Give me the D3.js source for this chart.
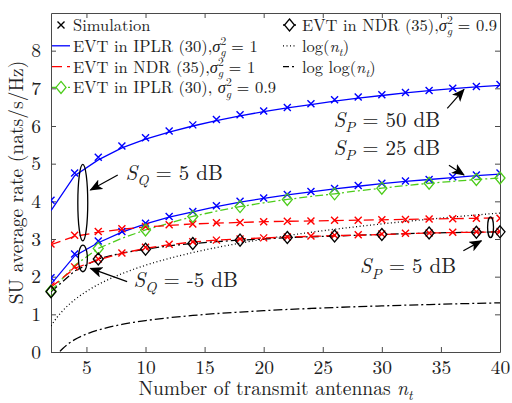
<!DOCTYPE html>
<html>
<head>
<meta charset="utf-8">
<title>SU average rate</title>
<script src="https://d3js.org/d3.v7.min.js"></script>
</head>
<body style="margin:0; background:#fff">
<script>
// number of transmit antennas (even values)
var nt = [2, 4, 6, 8, 10, 12, 14, 16, 18, 20, 22, 24, 26, 28, 30, 32, 34, 36, 38, 40];

// EVT in IPLR (30), sigma_g^2 = 1
var iplrHigh    = [3.75, 4.68, 5.10, 5.42, 5.65, 5.84, 6.00, 6.14, 6.27, 6.38, 6.48, 6.57, 6.66, 6.74, 6.81, 6.88, 6.94, 6.99, 7.04, 7.08];
var iplrHighSim = [4.03, 4.75, 5.17, 5.47, 5.69, 5.87, 6.03, 6.17, 6.30, 6.40, 6.49, 6.59, 6.70, 6.77, 6.83, 6.89, 6.94, 7.00, 7.05, 7.10];
var iplrLow     = [1.80, 2.55, 2.90, 3.18, 3.40, 3.58, 3.72, 3.86, 3.98, 4.08, 4.17, 4.25, 4.33, 4.40, 4.47, 4.53, 4.58, 4.63, 4.68, 4.72];
var iplrLowSim  = [1.97, 2.60, 2.95, 3.20, 3.42, 3.60, 3.73, 3.88, 4.00, 4.09, 4.18, 4.26, 4.34, 4.42, 4.48, 4.54, 4.58, 4.65, 4.70, 4.75];
// EVT in NDR (35), sigma_g^2 = 1
var ndrHigh     = [2.85, 3.07, 3.18, 3.26, 3.32, 3.36, 3.40, 3.42, 3.44, 3.46, 3.47, 3.48, 3.49, 3.50, 3.51, 3.52, 3.53, 3.54, 3.55, 3.56];
var ndrHighSim  = [2.87, 3.10, 3.20, 3.27, 3.33, 3.38, 3.40, 3.43, 3.44, 3.46, 3.47, 3.48, 3.50, 3.50, 3.51, 3.52, 3.53, 3.54, 3.55, 3.55];
var ndrLow      = [1.72, 2.22, 2.45, 2.62, 2.75, 2.85, 2.92, 2.97, 3.00, 3.03, 3.05, 3.07, 3.09, 3.10, 3.12, 3.14, 3.16, 3.17, 3.18, 3.19];
var ndrLowSim   = [1.75, 2.26, 2.47, 2.63, 2.78, 2.86, 2.93, 2.97, 3.00, 3.03, 3.05, 3.08, 3.10, 3.11, 3.13, 3.15, 3.16, 3.18, 3.19, 3.20];
// sigma_g^2 = 0.9
var iplr09      = [1.62, 2.30, 2.75, 3.02, 3.24, 3.42, 3.60, 3.74, 3.86, 3.96, 4.05, 4.13, 4.20, 4.28, 4.35, 4.42, 4.48, 4.53, 4.58, 4.62];
var ndr09       = [1.60, 2.15, 2.47, 2.63, 2.73, 2.82, 2.88, 2.93, 2.97, 3.00, 3.04, 3.06, 3.08, 3.10, 3.12, 3.14, 3.16, 3.17, 3.18, 3.19];
var diamondAt   = [2, 6, 10, 14, 18, 22, 26, 30, 34, 38, 40];

// reference curves
var ntFine  = [2, 2.5, 2.72, 3, 3.5, 4, 5, 6, 7, 8, 9, 10, 12, 14, 16, 18, 20, 22, 24, 26, 28, 30, 32, 34, 36, 38, 40];
var logN    = [0.693, 0.916, 1.001, 1.099, 1.253, 1.386, 1.609, 1.792, 1.946, 2.079, 2.197, 2.303, 2.485, 2.639, 2.773, 2.890, 2.996, 3.091, 3.178, 3.258, 3.332, 3.401, 3.466, 3.526, 3.584, 3.638, 3.689];
var logLogN = [-0.367, -0.087, 0.001, 0.094, 0.226, 0.327, 0.476, 0.583, 0.666, 0.732, 0.787, 0.834, 0.910, 0.970, 1.020, 1.061, 1.097, 1.129, 1.156, 1.181, 1.204, 1.224, 1.243, 1.260, 1.277, 1.291, 1.305];

var xTicks = [5, 10, 15, 20, 25, 30, 35, 40];
var yTicks = [0, 1, 2, 3, 4, 5, 6, 7, 8];

var FONT = "'Latin Modern Roman', 'Liberation Serif', 'DejaVu Serif'";
var INK = "#222";

var margin = {top: 13, right: 12, bottom: 51, left: 51};
var width = 512 - margin.left - margin.right,
    height = 403 - margin.top - margin.bottom;

var svg = d3.select("body").append("svg")
    .attr("width", 512).attr("height", 403);
var g = svg.append("g")
    .attr("transform", "translate(" + margin.left + "," + margin.top + ")");

var x = d3.scaleLinear().domain([2, 40]).range([0, width]);
var y = d3.scaleLinear().domain([0, 9]).range([height, 0]);

var blue = "#0000ff", red = "#ff0000", green = "#4ccc1a";

// rich text helper: parts with italic / sub / sup
function rich(sel, px, py, parts, size) {
    var t = sel.append("text").attr("x", px).attr("y", py)
        .style("font-family", FONT).style("font-size", size + "px").style("fill", INK);
    var shift = 0;
    parts.forEach(function(p) {
        var s = t.append("tspan").text(p.t);
        var target = p.sub ? 0.25 * size : (p.sup ? -0.42 * size : 0);
        s.attr("dy", target - shift);
        shift = target;
        if (p.it) s.style("font-style", "italic");
        if (p.sub || p.sup) s.style("font-size", (size * 0.7) + "px");
        if (p.dx) s.attr("dx", p.dx);
    });
    return t;
}

// axes (ticks pointing inwards)
function styleAxis(sel) {
    sel.selectAll("path, line").style("stroke", "#4a4a4a");
    sel.selectAll("text").style("font-family", FONT).style("font-size", "19.5px").style("fill", INK);
}
g.append("g")
    .attr("transform", "translate(0," + height + ")")
    .call(d3.axisBottom(x).tickValues(xTicks).tickSize(-5).tickSizeOuter(0).tickPadding(8))
    .call(styleAxis);
g.append("g")
    .call(d3.axisTop(x).tickValues(xTicks).tickSize(-5).tickSizeOuter(0).tickFormat(""))
    .call(styleAxis);
g.append("g")
    .call(d3.axisLeft(y).tickValues(yTicks).tickSize(-5).tickSizeOuter(0).tickPadding(10))
    .call(styleAxis);
g.append("g")
    .attr("transform", "translate(" + width + ",0)")
    .call(d3.axisRight(y).tickValues(yTicks).tickSize(-5).tickSizeOuter(0).tickFormat(""))
    .call(styleAxis);

svg.append("clipPath").attr("id", "clip")
    .append("rect").attr("width", width).attr("height", height);
var plot = g.append("g").attr("clip-path", "url(#clip)");

var line = d3.line()
    .x(function(d) { return x(d[0]); })
    .y(function(d) { return y(d[1]); });
var smooth = d3.line().curve(d3.curveMonotoneX)
    .x(function(d) { return x(d[0]); })
    .y(function(d) { return y(d[1]); });

function pairs(xs, ys) { return xs.map(function(v, i) { return [v, ys[i]]; }); }

function drawLine(vals, color, dash, gen, xs) {
    plot.append("path")
        .datum(pairs(xs || nt, vals))
        .attr("d", gen || line)
        .attr("fill", "none")
        .attr("stroke", color)
        .attr("stroke-width", 1.3)
        .attr("stroke-dasharray", dash || null);
}

var crossPath = "M-3.5,-3.5L3.5,3.5M-3.5,3.5L3.5,-3.5";
var diamondPath = "M0,-6L5,0L0,6L-5,0Z";

function drawCross(vals, color) {
    plot.selectAll(null).data(pairs(nt, vals)).enter().append("path")
        .attr("d", crossPath)
        .attr("transform", function(d) { return "translate(" + x(d[0]) + "," + y(d[1]) + ")"; })
        .attr("stroke", color).attr("stroke-width", 1.4).attr("fill", "none");
}

function drawDiamonds(vals, color) {
    var pts = pairs(nt, vals).filter(function(d) { return diamondAt.indexOf(d[0]) >= 0; });
    g.selectAll(null).data(pts).enter().append("path")
        .attr("d", diamondPath)
        .attr("transform", function(d) { return "translate(" + x(d[0]) + "," + y(d[1]) + ")"; })
        .attr("stroke", color).attr("stroke-width", 1.3).attr("fill", "none");
}

// reference curves
drawLine(logN, "#000", "1,2.5", smooth, ntFine);
drawLine(logLogN, "#000", "9,3,2,3", smooth, ntFine);

// EVT curves
drawLine(ndr09, "#000", "8,3,2,3");
drawLine(iplr09, green, "8,3,2,3");
drawLine(iplrHigh, blue);
drawLine(iplrLow, blue);
drawLine(ndrHigh, red, "10,5");
drawLine(ndrLow, red, "10,5");

// simulation markers
drawCross(iplrHighSim, blue);
drawCross(iplrLowSim, blue);
drawCross(ndrHighSim, red);
drawCross(ndrLowSim, red);
drawDiamonds(iplr09, green);
drawDiamonds(ndr09, "#000");

// annotations
svg.append("defs").append("marker")
    .attr("id", "arrow").attr("viewBox", "0 0 12 10")
    .attr("refX", 11).attr("refY", 5)
    .attr("markerUnits", "userSpaceOnUse")
    .attr("markerWidth", 13).attr("markerHeight", 11)
    .attr("orient", "auto")
    .append("path").attr("d", "M0,0L12,5L0,10L3,5Z").attr("fill", "#000");

var ellipses = [
    {cx: 4.69, cy: 3.965, rx: 0.42, ry: 1.015},
    {cx: 4.70, cy: 2.485, rx: 0.38, ry: 0.355},
    {cx: 39.2, cy: 3.315, rx: 0.25, ry: 0.275}
];
g.selectAll(".ell").data(ellipses).enter().append("ellipse")
    .attr("cx", function(d) { return x(d.cx); })
    .attr("cy", function(d) { return y(d.cy); })
    .attr("rx", function(d) { return x(d.cx + d.rx) - x(d.cx); })
    .attr("ry", function(d) { return y(d.cy - d.ry) - y(d.cy); })
    .attr("fill", "none").attr("stroke", "#000").attr("stroke-width", 1.3);

var arrows = [
    [7.65, 4.70, 5.34, 4.30],
    [8.44, 1.87, 5.34, 2.22],
    [35.54, 6.47, 36.95, 6.97],
    [35.68, 4.96, 36.95, 4.70],
    [36.9, 2.69, 38.42, 2.95]
];
g.selectAll(".arr").data(arrows).enter().append("line")
    .attr("x1", function(d) { return x(d[0]); })
    .attr("y1", function(d) { return y(d[1]); })
    .attr("x2", function(d) { return x(d[2]); })
    .attr("y2", function(d) { return y(d[3]); })
    .attr("stroke", "#000").attr("stroke-width", 1.2)
    .attr("marker-end", "url(#arrow)");

var fs = 21;
rich(g, x(8.3), y(4.57), [{t: "S", it: true}, {t: "Q", it: true, sub: true}, {t: " = 5 dB"}], fs);
rich(g, x(8.98), y(1.73), [{t: "S", it: true}, {t: "Q", it: true, sub: true}, {t: " = -5 dB"}], fs);
rich(g, x(25.9), y(5.98), [{t: "S", it: true}, {t: "P", it: true, sub: true}, {t: " = 50 dB"}], fs);
rich(g, x(25.9), y(5.23), [{t: "S", it: true}, {t: "P", it: true, sub: true}, {t: " = 25 dB"}], fs);
rich(g, x(28.14), y(2.09), [{t: "S", it: true}, {t: "P", it: true, sub: true}, {t: " = 5 dB"}], fs);

// legend
var lf = 16.5;
var sig = function(val, sp) {
    return [{t: sp ? ", " : ","}, {t: "σ", it: true}, {t: "2", sup: true}, {t: "g", it: true, sub: true, dx: -6}, {t: " = " + val}];
};
var leftItems = [
    {parts: [{t: "Simulation"}], color: "#000", marker: "x"},
    {parts: [{t: "EVT in IPLR (30)"}].concat(sig("1")), color: blue, dash: null},
    {parts: [{t: "EVT in NDR (35)"}].concat(sig("1")), color: red, dash: "10,5"},
    {parts: [{t: "EVT in IPLR (30)"}].concat(sig("0.9", true)), color: green, dash: "8,3,2,3", marker: "d"}
];
var rightItems = [
    {parts: [{t: "EVT in NDR (35)"}].concat(sig("0.9")), color: "#000", dash: "8,3,2,3", marker: "d"},
    {parts: [{t: "log("}, {t: "n", it: true}, {t: "t", it: true, sub: true}, {t: ")"}], color: "#000", dash: "1,2.5"},
    {parts: [{t: "log log("}, {t: "n", it: true}, {t: "t", it: true, sub: true}, {t: ")"}], color: "#000", dash: "6,3,2,3"}
];

function legend(items, x0, x1, xm, xt) {
    items.forEach(function(it, i) {
        var cy = 25 + i * 20.8;
        if (it.marker !== "x") {
            svg.append("line").attr("x1", x0).attr("x2", x1).attr("y1", cy).attr("y2", cy)
                .attr("stroke", it.color).attr("stroke-width", 1.3)
                .attr("stroke-dasharray", it.dash || null);
        }
        if (it.marker === "x") {
            svg.append("path").attr("d", crossPath).attr("transform", "translate(" + xm + "," + cy + ")")
                .attr("stroke", it.color).attr("stroke-width", 1.4);
        }
        if (it.marker === "d") {
            svg.append("path").attr("d", diamondPath).attr("transform", "translate(" + xm + "," + cy + ")")
                .attr("stroke", it.color).attr("stroke-width", 1.3).attr("fill", "#fff");
        }
        rich(svg, xt, cy + 6, it.parts, lf);
    });
}
legend(leftItems, 52, 70, 61, 73);
legend(rightItems, 283, 297, 289.5, 302);

// axis labels
rich(svg, margin.left + width / 2, 395,
    [{t: "Number of transmit antennas "}, {t: "n", it: true}, {t: "t", it: true, sub: true}], 19.5)
    .attr("text-anchor", "middle");
svg.append("text")
    .attr("transform", "translate(23," + (margin.top + height / 2) + ") rotate(-90)")
    .attr("text-anchor", "middle")
    .style("font-family", FONT).style("font-size", "19.5px").style("fill", INK)
    .text("SU average rate (nats/s/Hz)");
</script>
</body>
</html>
